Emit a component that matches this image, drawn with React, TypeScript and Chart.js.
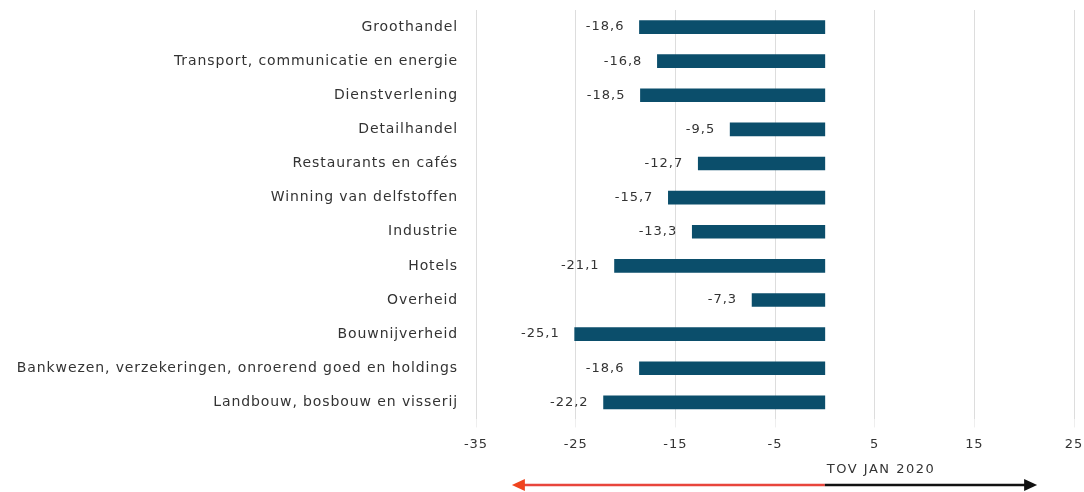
import React, { useEffect, useRef } from "react";
import { Chart, registerables } from "chart.js";

Chart.register(...registerables);

const categories = [
  "Groothandel",
  "Transport, communicatie en energie",
  "Dienstverlening",
  "Detailhandel",
  "Restaurants en cafés",
  "Winning van delfstoffen",
  "Industrie",
  "Hotels",
  "Overheid",
  "Bouwnijverheid",
  "Bankwezen, verzekeringen, onroerend goed en holdings",
  "Landbouw, bosbouw en visserij",
];

const values = [-18.6, -16.8, -18.5, -9.5, -12.7, -15.7, -13.3, -21.1, -7.3, -25.1, -18.6, -22.2];

const xMin = -35;
const xMax = 25;
const xStep = 10;

const arrowLabel = "TOV JAN 2020";
const arrowLeftValue = -31.4;
const arrowRightValue = 21.3;

const FONT = "'DejaVu Sans', sans-serif";
const BAR_COLOR = "#0b4e6b";
const TEXT_COLOR = "#333333";

const fmt = (v: number) => v.toFixed(1).replace(".", ",");

const spacingPlugin = {
  id: "spacing",
  beforeDraw(chart: any) {
    chart.ctx.letterSpacing = "0.9px";
  },
  afterDraw(chart: any) {
    chart.ctx.letterSpacing = "0px";
  },
};

const valueLabelPlugin = {
  id: "valueLabels",
  afterDatasetsDraw(chart: any) {
    const ctx = chart.ctx;
    const meta = chart.getDatasetMeta(0);
    ctx.save();
    ctx.letterSpacing = "1px";
    ctx.font = `13px ${FONT}`;
    ctx.fillStyle = TEXT_COLOR;
    ctx.textAlign = "right";
    ctx.textBaseline = "middle";
    meta.data.forEach((bar: any, i: number) => {
      ctx.fillText(fmt(values[i]), bar.x - 15, bar.y);
    });
    ctx.restore();
  },
};

const arrowPlugin = {
  id: "tovArrow",
  afterDraw(chart: any) {
    const ctx = chart.ctx;
    const xs = chart.scales.x;
    const zero = xs.getPixelForValue(0);
    const left = xs.getPixelForValue(arrowLeftValue);
    const right = xs.getPixelForValue(arrowRightValue);
    const y = 485;
    ctx.save();
    ctx.lineWidth = 2.5;
    ctx.strokeStyle = "#e8453c";
    ctx.beginPath();
    ctx.moveTo(zero, y);
    ctx.lineTo(left + 10, y);
    ctx.stroke();
    ctx.fillStyle = "#f0441e";
    ctx.beginPath();
    ctx.moveTo(left, y);
    ctx.lineTo(left + 13, y - 6);
    ctx.lineTo(left + 13, y + 6);
    ctx.closePath();
    ctx.fill();
    ctx.strokeStyle = "#111111";
    ctx.beginPath();
    ctx.moveTo(zero, y);
    ctx.lineTo(right - 10, y);
    ctx.stroke();
    ctx.fillStyle = "#111111";
    ctx.beginPath();
    ctx.moveTo(right, y);
    ctx.lineTo(right - 13, y - 6);
    ctx.lineTo(right - 13, y + 6);
    ctx.closePath();
    ctx.fill();
    ctx.letterSpacing = "1.5px";
    ctx.font = `13px ${FONT}`;
    ctx.fillStyle = TEXT_COLOR;
    ctx.textAlign = "left";
    ctx.textBaseline = "middle";
    ctx.fillText(arrowLabel, zero + 2, 470);
    ctx.restore();
  },
};

export default function App() {
  const ref = useRef<HTMLCanvasElement | null>(null);

  useEffect(() => {
    if (!ref.current) return;
    const chart = new Chart(ref.current, {
      type: "bar",
      data: {
        labels: categories,
        datasets: [
          {
            data: values,
            backgroundColor: BAR_COLOR,
            barThickness: 13,
          },
        ],
      },
      options: {
        indexAxis: "y",
        animation: false,
        responsive: true,
        maintainAspectRatio: false,
        layout: { padding: { top: 10, right: 10, bottom: 31, left: 0 } },
        plugins: {
          legend: { display: false },
          tooltip: { enabled: false },
        },
        scales: {
          x: {
            min: xMin,
            max: xMax,
            ticks: {
              stepSize: xStep,
              color: TEXT_COLOR,
              font: { family: FONT, size: 13 },
              padding: 9,
              callback: (v: any) => String(v),
            },
            grid: { color: "#dddddd", tickLength: 8, tickColor: "#eeeeee" },
            border: { display: false },
            afterFit: (scale: any) => {
              scale.paddingLeft = 0;
              scale.paddingRight = 0;
            },
          },
          y: {
            ticks: {
              color: TEXT_COLOR,
              font: { family: FONT, size: 14 },
              padding: 18,
            },
            grid: { display: false, drawTicks: false },
            border: { display: false },
            afterFit: (scale: any) => {
              scale.width = 476;
              scale.paddingTop = 0;
              scale.paddingBottom = 0;
            },
          },
        },
      },
      plugins: [spacingPlugin, valueLabelPlugin, arrowPlugin],
    });
    return () => chart.destroy();
  }, []);

  return (
    <div style={{ position: "absolute", left: 0, top: 0, width: 1084, height: 492, background: "#fff" }}>
      <canvas ref={ref} />
    </div>
  );
}
